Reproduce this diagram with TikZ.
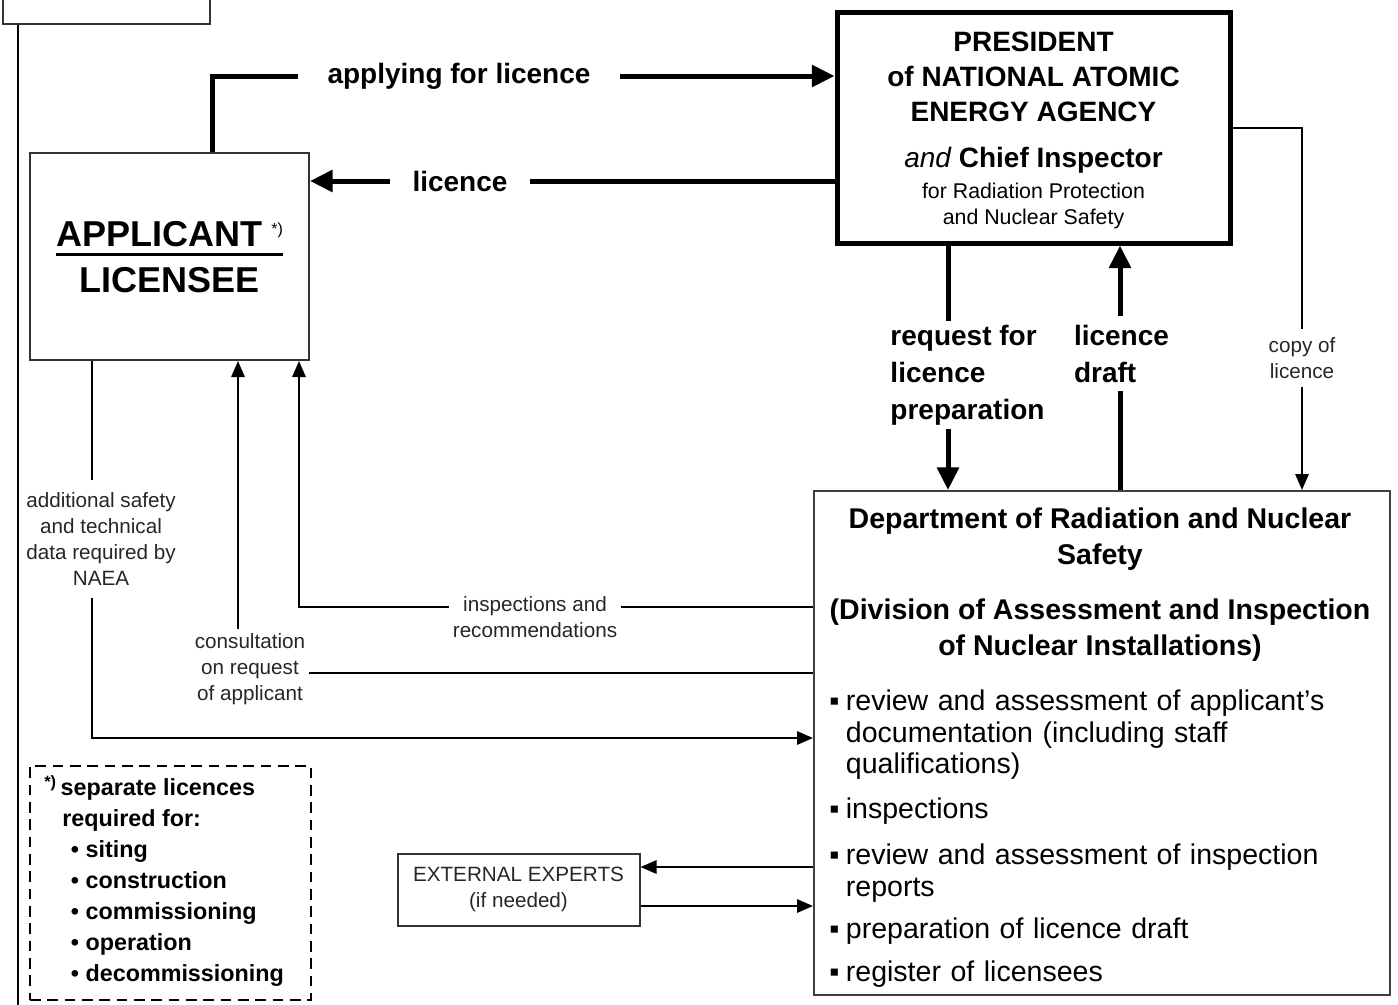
\documentclass[tikz,border=0pt]{standalone}
\usepackage{fontspec}
\setmainfont{Liberation Sans}
\usetikzlibrary{arrows.meta,positioning}

\newcommand{\taskpoint}{\makebox[12.5pt][l]{▪}}
\newcommand{\taskgap}{\hspace*{12.5pt}}

\tikzset{
  box/.style={draw=black!80, line width=1.5pt, inner sep=0pt},
  heavybox/.style={draw, line width=3.75pt, inner sep=0pt},
  notebox/.style={draw, line width=1.5pt, dash pattern=on 8pt off 5pt},
  heavy/.style={line width=3.75pt},
  light/.style={line width=1.5pt},
  heavyarrow/.style={heavy, -{Triangle[length=17pt,width=16pt]}},
  lightarrow/.style={light, -{Triangle[length=12pt,width=10pt]}},
  boldlabel/.style={font=\bfseries\fontsize{21pt}{27.75pt}\selectfont, align=left, inner sep=3pt},
  headtext/.style={font=\bfseries\fontsize{21.4pt}{27pt}\selectfont, align=center, inner sep=0pt},
  smalllabel/.style={font=\fontsize{15.5pt}{19.5pt}\selectfont, align=center, text=black!85, inner sep=3pt},
}

\begin{document}
\begin{tikzpicture}[x=0.75pt,y=0.75pt,yscale=-1,xscale=1]
\useasboundingbox (0,0) rectangle (1398,1004);

%=====Boxes=======
\node[box, minimum width=155.25pt, minimum height=45pt] (topbox) at (106.5,-6) {};

\node[box, minimum width=209.25pt, minimum height=155.25pt, font=\bfseries\fontsize{27pt}{32pt}\selectfont] (applicant) at (169.5,256.5)
  {\setlength{\tabcolsep}{0pt}\setlength{\arrayrulewidth}{2.2pt}\renewcommand{\arraystretch}{0}%
   \begin{tabular}{c}\rule[-5pt]{0pt}{25pt}APPLICANT\hspace{7pt}\raisebox{9pt}{\mdseries\fontsize{12pt}{12pt}\selectfont*)}\\\hline
   \rule{0pt}{27.5pt}LICENSEE\end{tabular}};

\node[heavybox, minimum width=294.75pt, minimum height=173.25pt] (president) at (1033.5,127.5) {};
\node[headtext, font=\bfseries\fontsize{21pt}{26pt}\selectfont] (presidenthead) at (1033.5,77)
  {PRESIDENT\\of NATIONAL ATOMIC\\ENERGY AGENCY};
\node[headtext, font=\bfseries\fontsize{21pt}{26pt}\selectfont] (chieflbl) at (1033.5,160)
  {{\mdseries\itshape and} Chief Inspector};
\node[headtext, font=\fontsize{16pt}{19.5pt}\selectfont] (protectlbl) at (1033.5,206)
  {for Radiation Protection\\and Nuclear Safety};

\node[box, draw=black!75, minimum width=432pt, minimum height=378pt] (dept) at (1102,743) {};
\node[headtext] (depthead) at (1100,539) {Department of Radiation and Nuclear\\Safety};
\node[headtext] (divhead) at (1100,630) {(Division of Assessment and Inspection\\of Nuclear Installations)};
\node[font=\fontsize{21.4pt}{23.6pt}\selectfont, text width=410pt, align=left, inner sep=0pt, anchor=north west] (tasks) at (829,690)
  {\taskpoint review and assessment of applicant's\\
   \taskgap documentation (including staff\\
   \taskgap qualifications)\\[10pt]
   \taskpoint inspections\\[11pt]
   \taskpoint review and assessment of inspection\\
   \taskgap reports\\[8pt]
   \taskpoint preparation of licence draft\\[9pt]
   \taskpoint register of licensees};

\node[smalllabel, box, minimum width=181.5pt, minimum height=54pt] (experts) at (518.5,889.5) {EXTERNAL EXPERTS\\(if needed)};

\node[notebox, minimum width=210.75pt, minimum height=175.5pt] (note) at (170.5,883) {};
\node[font=\bfseries\fontsize{17.5pt}{23.25pt}\selectfont, align=left, inner sep=0pt, anchor=north west] (notetext) at (44,775)
  {\textsuperscript{*)}\,separate licences\\
   \hspace*{13.5pt}required for:\\
   \hspace*{20pt}\textbullet\ siting\\
   \hspace*{20pt}\textbullet\ construction\\
   \hspace*{20pt}\textbullet\ commissioning\\
   \hspace*{20pt}\textbullet\ operation\\
   \hspace*{20pt}\textbullet\ decommissioning};

%=====Labels=======
\node[boldlabel, inner xsep=22pt] (applylbl) at (459,76) {applying for licence};
\node[boldlabel, inner xsep=17pt] (licencelbl) at (460,181) {licence};
\node[boldlabel] (reqlbl) at (967.5,375) {request for\\licence\\preparation};
\node[boldlabel, inner ysep=6pt] (draftlbl) at (1121.5,353.5) {licence\\draft};
\node[smalllabel, inner ysep=6pt] (copylbl) at (1302,358) {copy of\\licence};
\node[smalllabel, inner ysep=9pt] (addlbl) at (101,539) {additional safety\\and technical\\data required by\\NAEA};
\node[smalllabel] (conslbl) at (250,669) {consultation\\on request\\of applicant};
\node[smalllabel] (insplbl) at (535,617) {inspections and\\recommendations};

%=====Connectors=======
\coordinate (leftfoot) at (18,1010);
\coordinate (applycol) at (212,0);
\coordinate (reqcol) at (948,0);
\coordinate (draftcol) at (1120,0);
\coordinate (addcol) at (92,0);
\coordinate (conscol) at (238,0);
\coordinate (inspcol) at (299,0);
\coordinate (insprow) at (0,607);
\coordinate (consrow) at (0,673);
\coordinate (addrow) at (0,738);
\coordinate (askrow) at (0,867);
\coordinate (replyrow) at (0,906);

\draw[light] (topbox.south -| leftfoot) -- (leftfoot);

\draw[heavy] (applicant.north -| applycol) |- (applylbl.west);
\draw[heavyarrow] (applylbl.east) -- (president.west |- applylbl.east);
\draw[heavy] (president.west |- licencelbl.east) -- (licencelbl.east);
\draw[heavyarrow] (licencelbl.west) -- (applicant.east |- licencelbl.west);

\draw[heavy] (president.south -| reqcol) -- (reqlbl.north -| reqcol);
\draw[heavyarrow] (reqlbl.south -| reqcol) -- (dept.north -| reqcol);
\draw[heavy] (dept.north -| draftcol) -- (draftlbl.south -| draftcol);
\draw[heavyarrow] (draftlbl.north -| draftcol) -- (president.south -| draftcol);

\draw[light] (president.east) -| (copylbl.north);
\draw[lightarrow] (copylbl.south) -- (dept.north -| copylbl.south);

\draw[light] (applicant.south -| addcol) -- (addlbl.north -| addcol);
\draw[lightarrow] (addlbl.south -| addcol) |- (dept.west |- addrow);
\draw[light] (dept.west |- consrow) -- (conslbl.east |- consrow);
\draw[lightarrow] (conslbl.north -| conscol) -- (applicant.south -| conscol);
\draw[light] (dept.west |- insprow) -- (insplbl.east |- insprow);
\draw[lightarrow] (insplbl.west |- insprow) -| (applicant.south -| inspcol);

\draw[lightarrow] (dept.west |- askrow) -- (experts.east |- askrow);
\draw[lightarrow] (experts.east |- replyrow) -- (dept.west |- replyrow);

\end{tikzpicture}
\end{document}
